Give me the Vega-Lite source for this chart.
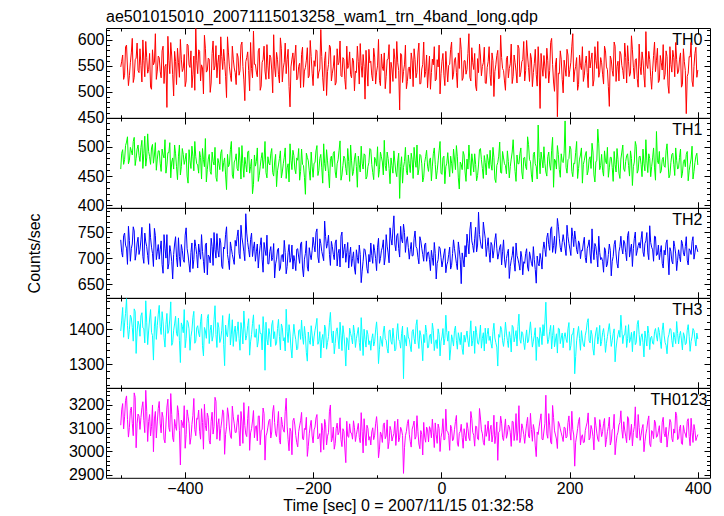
{
"$schema": "https://vega.github.io/schema/vega-lite/v6.json",
"background": "white",
"padding": {"left": 25, "top": 9, "right": 5, "bottom": 2},
"bounds": "flush",
"title": {"text": "ae501015010_20071115013258_wam1_trn_4band_long.qdp", "anchor": "start", "frame": "group", "font": "Liberation Sans", "fontSize": 16, "fontWeight": "normal", "color": "black", "offset": -4},
"config": {
  "view": {"stroke": "black", "strokeWidth": 1},
  "font": "Liberation Sans",
  "concat": {"spacing": 0},
  "axis": {"domain": false, "grid": false, "minExtent": 0, "tickColor": "black", "tickWidth": 1, "labelColor": "black", "labelFont": "Liberation Sans", "labelFontSize": 16, "titleFont": "Liberation Sans", "titleFontSize": 16, "titleFontWeight": "normal", "titleColor": "black", "labelFlush": false, "labelOverlap": false},
  "title": {"font": "Liberation Sans", "fontSize": 16, "fontWeight": "normal", "color": "black"}
},
"datasets": {"lc": [
{"t":-500,"a":548,"b":462,"c":735,"d":1395,"e":3112},
{"t":-497,"a":571,"b":495,"c":702,"d":1462,"e":3205},
{"t":-494,"a":532,"b":478,"c":748,"d":1418,"e":3148},
{"t":-491,"a":590,"b":508,"c":719,"d":1487,"e":3238},
{"t":-488,"a":512,"b":471,"c":761,"d":1372,"e":3061},
{"t":-485,"a":556,"b":499,"c":694,"d":1440,"e":3176},
{"t":-482,"a":603,"b":486,"c":727,"d":1405,"e":3120},
{"t":-479,"a":528,"b":516,"c":752,"d":1458,"e":3251},
{"t":-476,"a":565,"b":480,"c":708,"d":1331,"e":3015},
{"t":-473,"a":541,"b":503,"c":740,"d":1423,"e":3160},
{"t":-470,"a":583,"b":475,"c":716,"d":1380,"e":3094},
{"t":-467,"a":519,"b":511,"c":759,"d":1447,"e":3187},
{"t":-464,"a":560,"b":489,"c":690,"d":1402,"e":3133},
{"t":-461,"a":597,"b":467,"c":731,"d":1481,"e":3262},
{"t":-458,"a":536,"b":522,"c":705,"d":1356,"e":3042},
{"t":-455,"a":574,"b":483,"c":766,"d":1429,"e":3158},
{"t":-452,"a":505,"b":498,"c":721,"d":1391,"e":3107},
{"t":-449,"a":552,"b":472,"c":684,"d":1312,"e":2998},
{"t":-446,"a":612,"b":507,"c":743,"d":1436,"e":3171},
{"t":-443,"a":540,"b":479,"c":712,"d":1410,"e":3126},
{"t":-440,"a":566,"b":493,"c":698,"d":1468,"e":3214},
{"t":-437,"a":527,"b":458,"c":733,"d":1385,"e":3079},
{"t":-434,"a":588,"b":486,"c":671,"d":1421,"e":3145},
{"t":-431,"a":549,"b":512,"c":719,"d":1349,"e":3036},
{"t":-428,"a":470,"b":469,"c":745,"d":1445,"e":3190},
{"t":-425,"a":561,"b":490,"c":689,"d":1397,"e":3102},
{"t":-422,"a":595,"b":447,"c":712,"d":1478,"e":3248},
{"t":-419,"a":533,"b":481,"c":660,"d":1362,"e":3058},
{"t":-416,"a":578,"b":503,"c":727,"d":1415,"e":3137},
{"t":-413,"a":514,"b":466,"c":701,"d":1388,"e":3090},
{"t":-410,"a":556,"b":484,"c":739,"d":1432,"e":3168},
{"t":-407,"a":601,"b":452,"c":684,"d":1305,"e":2941},
{"t":-404,"a":539,"b":497,"c":715,"d":1408,"e":3121},
{"t":-401,"a":572,"b":470,"c":692,"d":1456,"e":3196},
{"t":-398,"a":521,"b":489,"c":758,"d":1374,"e":3072},
{"t":-395,"a":590,"b":438,"c":706,"d":1420,"e":3149},
{"t":-392,"a":547,"b":476,"c":673,"d":1340,"e":3030},
{"t":-389,"a":508,"b":501,"c":729,"d":1397,"e":3115},
{"t":-386,"a":569,"b":459,"c":697,"d":1451,"e":3227},
{"t":-383,"a":622,"b":483,"c":722,"d":1366,"e":3067},
{"t":-380,"a":535,"b":469,"c":681,"d":1410,"e":3138},
{"t":-377,"a":578,"b":492,"c":711,"d":1378,"e":3086},
{"t":-374,"a":552,"b":445,"c":745,"d":1443,"e":3183},
{"t":-371,"a":496,"b":478,"c":694,"d":1324,"e":3009},
{"t":-368,"a":584,"b":514,"c":725,"d":1395,"e":3111},
{"t":-365,"a":541,"b":461,"c":668,"d":1431,"e":3164},
{"t":-362,"a":563,"b":487,"c":703,"d":1359,"e":3047},
{"t":-359,"a":517,"b":453,"c":738,"d":1412,"e":3129},
{"t":-356,"a":598,"b":475,"c":686,"d":1381,"e":3074},
{"t":-353,"a":550,"b":499,"c":716,"d":1467,"e":3232},
{"t":-350,"a":527,"b":441,"c":747,"d":1348,"e":3052},
{"t":-347,"a":571,"b":472,"c":702,"d":1404,"e":3140},
{"t":-344,"a":606,"b":489,"c":729,"d":1372,"e":3098},
{"t":-341,"a":543,"b":458,"c":680,"d":1439,"e":3178},
{"t":-338,"a":559,"b":481,"c":718,"d":1296,"e":2987},
{"t":-335,"a":489,"b":427,"c":760,"d":1386,"e":3105},
{"t":-332,"a":575,"b":466,"c":695,"d":1418,"e":3156},
{"t":-329,"a":532,"b":495,"c":731,"d":1355,"e":3066},
{"t":-326,"a":588,"b":452,"c":707,"d":1427,"e":3194},
{"t":-323,"a":546,"b":474,"c":688,"d":1392,"e":3118},
{"t":-320,"a":514,"b":488,"c":723,"d":1365,"e":3081},
{"t":-317,"a":567,"b":459,"c":754,"d":1421,"e":3157},
{"t":-314,"a":541,"b":476,"c":699,"d":1340,"e":3023},
{"t":-311,"a":596,"b":502,"c":740,"d":1398,"e":3126},
{"t":-308,"a":523,"b":448,"c":712,"d":1452,"e":3209},
{"t":-305,"a":558,"b":470,"c":785,"d":1369,"e":3074},
{"t":-302,"a":577,"b":491,"c":730,"d":1410,"e":3141},
{"t":-299,"a":502,"b":455,"c":702,"d":1326,"e":3004},
{"t":-296,"a":545,"b":479,"c":748,"d":1385,"e":3097},
{"t":-293,"a":617,"b":436,"c":719,"d":1441,"e":3175},
{"t":-290,"a":553,"b":467,"c":694,"d":1377,"e":3106},
{"t":-287,"a":529,"b":498,"c":727,"d":1349,"e":3045},
{"t":-284,"a":584,"b":451,"c":706,"d":1413,"e":3152},
{"t":-281,"a":511,"b":480,"c":739,"d":1388,"e":3088},
{"t":-278,"a":562,"b":463,"c":673,"d":1436,"e":3186},
{"t":-275,"a":540,"b":509,"c":716,"d":1283,"e":2962},
{"t":-272,"a":591,"b":447,"c":744,"d":1371,"e":3079},
{"t":-269,"a":525,"b":472,"c":689,"d":1402,"e":3131},
{"t":-266,"a":566,"b":488,"c":722,"d":1350,"e":3057},
{"t":-263,"a":498,"b":456,"c":701,"d":1425,"e":3169},
{"t":-260,"a":548,"b":474,"c":662,"d":1393,"e":3124},
{"t":-257,"a":576,"b":432,"c":698,"d":1360,"e":3063},
{"t":-254,"a":533,"b":469,"c":719,"d":1428,"e":3171},
{"t":-251,"a":604,"b":493,"c":681,"d":1341,"e":3031},
{"t":-248,"a":519,"b":457,"c":707,"d":1405,"e":3116},
{"t":-245,"a":557,"b":482,"c":734,"d":1376,"e":3082},
{"t":-242,"a":535,"b":446,"c":670,"d":1457,"e":3228},
{"t":-239,"a":582,"b":471,"c":711,"d":1362,"e":3050},
{"t":-236,"a":471,"b":505,"c":692,"d":1389,"e":3099},
{"t":-233,"a":563,"b":461,"c":725,"d":1318,"e":2985},
{"t":-230,"a":541,"b":485,"c":705,"d":1414,"e":3142},
{"t":-227,"a":590,"b":454,"c":676,"d":1370,"e":3068},
{"t":-224,"a":526,"b":477,"c":718,"d":1345,"e":3019},
{"t":-221,"a":555,"b":443,"c":690,"d":1399,"e":3109},
{"t":-218,"a":572,"b":496,"c":731,"d":1426,"e":3167},
{"t":-215,"a":509,"b":468,"c":664,"d":1357,"e":3049},
{"t":-212,"a":547,"b":419,"c":709,"d":1381,"e":3093},
{"t":-209,"a":585,"b":482,"c":683,"d":1309,"e":2978},
{"t":-206,"a":531,"b":459,"c":720,"d":1368,"e":3075},
{"t":-203,"a":568,"b":491,"c":697,"d":1410,"e":3133},
{"t":-200,"a":512,"b":448,"c":740,"d":1352,"e":3036},
{"t":-197,"a":549,"b":473,"c":712,"d":1397,"e":3104},
{"t":-194,"a":579,"b":502,"c":756,"d":1431,"e":3158},
{"t":-191,"a":538,"b":460,"c":691,"d":1366,"e":3061},
{"t":-188,"a":620,"b":487,"c":728,"d":1318,"e":2996},
{"t":-185,"a":527,"b":438,"c":704,"d":1385,"e":3088},
{"t":-182,"a":561,"b":471,"c":771,"d":1412,"e":3137},
{"t":-179,"a":493,"b":495,"c":719,"d":1343,"e":3027},
{"t":-176,"a":553,"b":455,"c":744,"d":1379,"e":3080},
{"t":-173,"a":586,"b":480,"c":686,"d":1448,"e":3199},
{"t":-170,"a":536,"b":466,"c":722,"d":1361,"e":3055},
{"t":-167,"a":570,"b":492,"c":697,"d":1330,"e":3009},
{"t":-164,"a":518,"b":447,"c":735,"d":1394,"e":3097},
{"t":-161,"a":552,"b":478,"c":709,"d":1372,"e":3071},
{"t":-158,"a":598,"b":510,"c":683,"d":1420,"e":3144},
{"t":-155,"a":529,"b":452,"c":750,"d":1339,"e":3020},
{"t":-152,"a":563,"b":484,"c":716,"d":1386,"e":3086},
{"t":-149,"a":505,"b":463,"c":692,"d":1295,"e":2951},
{"t":-146,"a":545,"b":497,"c":730,"d":1367,"e":3064},
{"t":-143,"a":577,"b":441,"c":707,"d":1403,"e":3118},
{"t":-140,"a":527,"b":476,"c":684,"d":1376,"e":3078},
{"t":-137,"a":560,"b":458,"c":712,"d":1412,"e":3131},
{"t":-134,"a":540,"b":489,"c":669,"d":1348,"e":3042},
{"t":-131,"a":588,"b":431,"c":701,"d":1389,"e":3095},
{"t":-128,"a":515,"b":470,"c":725,"d":1362,"e":3060},
{"t":-125,"a":551,"b":501,"c":653,"d":1433,"e":3166},
{"t":-122,"a":572,"b":462,"c":694,"d":1325,"e":2993},
{"t":-119,"a":486,"b":486,"c":716,"d":1371,"e":3074},
{"t":-116,"a":544,"b":449,"c":680,"d":1397,"e":3112},
{"t":-113,"a":582,"b":473,"c":707,"d":1356,"e":3048},
{"t":-110,"a":559,"b":495,"c":729,"d":1340,"e":3027},
{"t":-107,"a":521,"b":456,"c":690,"d":1387,"e":3101},
{"t":-104,"a":567,"b":482,"c":714,"d":1364,"e":3069},
{"t":-101,"a":538,"b":467,"c":676,"d":1421,"e":3149},
{"t":-98,"a":601,"b":448,"c":738,"d":1302,"e":2972},
{"t":-95,"a":512,"b":491,"c":699,"d":1380,"e":3083},
{"t":-92,"a":548,"b":474,"c":721,"d":1351,"e":3038},
{"t":-89,"a":575,"b":511,"c":687,"d":1409,"e":3122},
{"t":-86,"a":530,"b":459,"c":745,"d":1368,"e":3066},
{"t":-83,"a":563,"b":480,"c":710,"d":1332,"e":3011},
{"t":-80,"a":497,"b":437,"c":758,"d":1398,"e":3107},
{"t":-77,"a":544,"b":468,"c":725,"d":1357,"e":3044},
{"t":-74,"a":583,"b":493,"c":781,"d":1374,"e":3076},
{"t":-71,"a":526,"b":457,"c":714,"d":1343,"e":3025},
{"t":-68,"a":556,"b":476,"c":747,"d":1416,"e":3138},
{"t":-65,"a":465,"b":412,"c":702,"d":1365,"e":3058},
{"t":-62,"a":571,"b":483,"c":736,"d":1388,"e":3092},
{"t":-59,"a":539,"b":465,"c":765,"d":1259,"e":2905},
{"t":-56,"a":590,"b":499,"c":711,"d":1369,"e":3067},
{"t":-53,"a":520,"b":452,"c":741,"d":1405,"e":3119},
{"t":-50,"a":548,"b":471,"c":698,"d":1371,"e":3073},
{"t":-47,"a":575,"b":489,"c":730,"d":1336,"e":3018},
{"t":-44,"a":510,"b":446,"c":705,"d":1399,"e":3110},
{"t":-41,"a":562,"b":477,"c":752,"d":1358,"e":3052},
{"t":-38,"a":537,"b":503,"c":718,"d":1427,"e":3153},
{"t":-35,"a":594,"b":462,"c":689,"d":1345,"e":3031},
{"t":-32,"a":516,"b":485,"c":733,"d":1383,"e":3089},
{"t":-29,"a":553,"b":440,"c":707,"d":1310,"e":2984},
{"t":-26,"a":528,"b":473,"c":726,"d":1362,"e":3061},
{"t":-23,"a":571,"b":494,"c":694,"d":1391,"e":3104},
{"t":-20,"a":540,"b":458,"c":712,"d":1348,"e":3040},
{"t":-17,"a":505,"b":481,"c":676,"d":1386,"e":3094},
{"t":-14,"a":563,"b":467,"c":701,"d":1417,"e":3138},
{"t":-11,"a":587,"b":498,"c":730,"d":1339,"e":3016},
{"t":-8,"a":524,"b":445,"c":660,"d":1370,"e":3071},
{"t":-5,"a":548,"b":476,"c":697,"d":1401,"e":3117},
{"t":-2,"a":496,"b":509,"c":719,"d":1324,"e":2999},
{"t":1,"a":559,"b":453,"c":683,"d":1378,"e":3082},
{"t":4,"a":532,"b":484,"c":708,"d":1355,"e":3049},
{"t":7,"a":578,"b":466,"c":672,"d":1440,"e":3181},
{"t":10,"a":519,"b":490,"c":693,"d":1366,"e":3085},
{"t":13,"a":553,"b":449,"c":721,"d":1312,"e":3004},
{"t":16,"a":596,"b":472,"c":686,"d":1384,"e":3098},
{"t":19,"a":534,"b":496,"c":735,"d":1352,"e":3053},
{"t":22,"a":566,"b":461,"c":704,"d":1409,"e":3128},
{"t":25,"a":508,"b":483,"c":678,"d":1343,"e":3035},
{"t":28,"a":545,"b":428,"c":716,"d":1375,"e":3077},
{"t":31,"a":581,"b":470,"c":651,"d":1391,"e":3116},
{"t":34,"a":527,"b":492,"c":698,"d":1328,"e":3013},
{"t":37,"a":560,"b":457,"c":724,"d":1363,"e":3069},
{"t":40,"a":543,"b":479,"c":746,"d":1395,"e":3123},
{"t":43,"a":612,"b":503,"c":708,"d":1350,"e":3057},
{"t":46,"a":521,"b":451,"c":769,"d":1424,"e":3171},
{"t":49,"a":556,"b":474,"c":724,"d":1368,"e":3081},
{"t":52,"a":574,"b":488,"c":737,"d":1331,"e":3022},
{"t":55,"a":502,"b":442,"c":712,"d":1390,"e":3106},
{"t":58,"a":537,"b":469,"c":788,"d":1357,"e":3049},
{"t":61,"a":569,"b":497,"c":731,"d":1412,"e":3143},
{"t":64,"a":549,"b":463,"c":718,"d":1374,"e":3075},
{"t":67,"a":586,"b":485,"c":752,"d":1338,"e":3026},
{"t":70,"a":516,"b":452,"c":703,"d":1359,"e":3064},
{"t":73,"a":558,"b":477,"c":739,"d":1403,"e":3130},
{"t":76,"a":533,"b":494,"c":692,"d":1380,"e":3092},
{"t":79,"a":575,"b":460,"c":725,"d":1346,"e":3040},
{"t":82,"a":491,"b":482,"c":714,"d":1417,"e":3155},
{"t":85,"a":552,"b":439,"c":747,"d":1362,"e":3068},
{"t":88,"a":580,"b":473,"c":698,"d":1295,"e":2961},
{"t":91,"a":528,"b":508,"c":721,"d":1377,"e":3087},
{"t":94,"a":566,"b":455,"c":687,"d":1399,"e":3121},
{"t":97,"a":541,"b":481,"c":735,"d":1351,"e":3046},
{"t":100,"a":503,"b":468,"c":682,"d":1420,"e":3139},
{"t":103,"a":569,"b":493,"c":709,"d":1368,"e":3074},
{"t":106,"a":545,"b":447,"c":661,"d":1393,"e":3106},
{"t":109,"a":592,"b":479,"c":696,"d":1335,"e":3021},
{"t":112,"a":530,"b":512,"c":722,"d":1406,"e":3127},
{"t":115,"a":556,"b":458,"c":675,"d":1379,"e":3083},
{"t":118,"a":517,"b":486,"c":705,"d":1352,"e":3047},
{"t":121,"a":584,"b":471,"c":689,"d":1443,"e":3196},
{"t":124,"a":538,"b":498,"c":713,"d":1360,"e":3060},
{"t":127,"a":562,"b":445,"c":668,"d":1387,"e":3099},
{"t":130,"a":521,"b":482,"c":690,"d":1342,"e":3034},
{"t":133,"a":599,"b":461,"c":718,"d":1398,"e":3118},
{"t":136,"a":547,"b":504,"c":675,"d":1366,"e":3065},
{"t":139,"a":574,"b":475,"c":702,"d":1421,"e":3163},
{"t":142,"a":510,"b":440,"c":684,"d":1349,"e":3043},
{"t":145,"a":555,"b":491,"c":697,"d":1382,"e":3091},
{"t":148,"a":533,"b":466,"c":652,"d":1311,"e":2977},
{"t":151,"a":587,"b":537,"c":690,"d":1372,"e":3072},
{"t":154,"a":468,"b":454,"c":709,"d":1405,"e":3134},
{"t":157,"a":548,"b":478,"c":679,"d":1356,"e":3052},
{"t":160,"a":570,"b":500,"c":731,"d":1381,"e":3087},
{"t":163,"a":526,"b":457,"c":703,"d":1477,"e":3241},
{"t":166,"a":560,"b":483,"c":748,"d":1359,"e":3056},
{"t":169,"a":541,"b":469,"c":715,"d":1394,"e":3109},
{"t":172,"a":603,"b":494,"c":760,"d":1344,"e":3031},
{"t":175,"a":519,"b":431,"c":724,"d":1411,"e":3145},
{"t":178,"a":552,"b":476,"c":709,"d":1369,"e":3070},
{"t":181,"a":452,"b":502,"c":776,"d":1332,"e":3012},
{"t":184,"a":535,"b":461,"c":738,"d":1401,"e":3117},
{"t":187,"a":563,"b":488,"c":712,"d":1375,"e":3079},
{"t":190,"a":498,"b":473,"c":745,"d":1347,"e":3042},
{"t":193,"a":546,"b":544,"c":719,"d":1390,"e":3101},
{"t":196,"a":582,"b":455,"c":763,"d":1362,"e":3063},
{"t":199,"a":529,"b":480,"c":728,"d":1419,"e":3152},
{"t":202,"a":557,"b":496,"c":705,"d":1353,"e":3048},
{"t":205,"a":612,"b":449,"c":741,"d":1386,"e":3093},
{"t":208,"a":540,"b":471,"c":752,"d":1273,"e":2936},
{"t":211,"a":566,"b":509,"c":716,"d":1367,"e":3066},
{"t":214,"a":514,"b":463,"c":733,"d":1408,"e":3129},
{"t":217,"a":551,"b":486,"c":699,"d":1340,"e":3027},
{"t":220,"a":587,"b":438,"c":714,"d":1372,"e":3071},
{"t":223,"a":532,"b":477,"c":740,"d":1350,"e":3039},
{"t":226,"a":569,"b":492,"c":691,"d":1396,"e":3108},
{"t":229,"a":508,"b":459,"c":725,"d":1430,"e":3165},
{"t":232,"a":546,"b":483,"c":708,"d":1361,"e":3058},
{"t":235,"a":575,"b":506,"c":756,"d":1384,"e":3094},
{"t":238,"a":523,"b":452,"c":697,"d":1326,"e":3006},
{"t":241,"a":560,"b":474,"c":722,"d":1392,"e":3112},
{"t":244,"a":597,"b":530,"c":683,"d":1358,"e":3051},
{"t":247,"a":538,"b":461,"c":711,"d":1411,"e":3136},
{"t":250,"a":556,"b":487,"c":701,"d":1365,"e":3063},
{"t":253,"a":515,"b":450,"c":673,"d":1402,"e":3120},
{"t":256,"a":579,"b":476,"c":715,"d":1334,"e":3019},
{"t":259,"a":543,"b":499,"c":689,"d":1379,"e":3084},
{"t":262,"a":472,"b":464,"c":727,"d":1416,"e":3147},
{"t":265,"a":562,"b":482,"c":666,"d":1351,"e":3044},
{"t":268,"a":530,"b":441,"c":703,"d":1388,"e":3097},
{"t":271,"a":588,"b":470,"c":734,"d":1307,"e":2985},
{"t":274,"a":549,"b":497,"c":690,"d":1369,"e":3068},
{"t":277,"a":521,"b":455,"c":712,"d":1397,"e":3113},
{"t":280,"a":573,"b":479,"c":742,"d":1440,"e":3174},
{"t":283,"a":541,"b":503,"c":708,"d":1359,"e":3056},
{"t":286,"a":594,"b":458,"c":729,"d":1384,"e":3091},
{"t":289,"a":517,"b":485,"c":695,"d":1348,"e":3037},
{"t":292,"a":558,"b":468,"c":751,"d":1413,"e":3139},
{"t":295,"a":536,"b":493,"c":716,"d":1371,"e":3074},
{"t":298,"a":581,"b":434,"c":684,"d":1336,"e":3023},
{"t":301,"a":525,"b":474,"c":738,"d":1395,"e":3106},
{"t":304,"a":564,"b":501,"c":705,"d":1362,"e":3061},
{"t":307,"a":509,"b":460,"c":724,"d":1425,"e":3158},
{"t":310,"a":549,"b":484,"c":719,"d":1353,"e":3047},
{"t":313,"a":577,"b":449,"c":751,"d":1387,"e":3098},
{"t":316,"a":531,"b":471,"c":703,"d":1321,"e":2998},
{"t":319,"a":616,"b":512,"c":733,"d":1374,"e":3075},
{"t":322,"a":545,"b":456,"c":710,"d":1409,"e":3131},
{"t":325,"a":562,"b":480,"c":762,"d":1342,"e":3032},
{"t":328,"a":505,"b":466,"c":721,"d":1380,"e":3089},
{"t":331,"a":570,"b":498,"c":694,"d":1357,"e":3054},
{"t":334,"a":539,"b":443,"c":741,"d":1402,"e":3121},
{"t":337,"a":584,"b":476,"c":707,"d":1366,"e":3066},
{"t":340,"a":522,"b":492,"c":697,"d":1391,"e":3110},
{"t":343,"a":556,"b":459,"c":724,"d":1345,"e":3036},
{"t":346,"a":591,"b":482,"c":681,"d":1418,"e":3146},
{"t":349,"a":534,"b":465,"c":706,"d":1362,"e":3062},
{"t":352,"a":568,"b":505,"c":735,"d":1330,"e":3018},
{"t":355,"a":497,"b":447,"c":668,"d":1385,"e":3092},
{"t":358,"a":553,"b":473,"c":713,"d":1400,"e":3125},
{"t":361,"a":580,"b":489,"c":689,"d":1349,"e":3041},
{"t":364,"a":529,"b":451,"c":722,"d":1376,"e":3078},
{"t":367,"a":562,"b":477,"c":676,"d":1422,"e":3153},
{"t":370,"a":540,"b":464,"c":716,"d":1358,"e":3055},
{"t":373,"a":575,"b":496,"c":693,"d":1394,"e":3113},
{"t":376,"a":514,"b":455,"c":728,"d":1341,"e":3029},
{"t":379,"a":558,"b":478,"c":704,"d":1381,"e":3086},
{"t":382,"a":458,"b":487,"c":741,"d":1360,"e":3059},
{"t":385,"a":536,"b":442,"c":687,"d":1413,"e":3140},
{"t":388,"a":567,"b":470,"c":715,"d":1337,"e":3024},
{"t":391,"a":521,"b":501,"c":732,"d":1378,"e":3081},
{"t":394,"a":549,"b":458,"c":698,"d":1396,"e":3115},
{"t":397,"a":586,"b":484,"c":725,"d":1352,"e":3046},
{"t":400,"a":542,"b":469,"c":712,"d":1372,"e":3072},
{"t":-498.5,"a":559,"b":489,"c":711,"d":1426,"e":3178},
{"t":-495.5,"a":524,"b":470,"c":743,"d":1377,"e":3096},
{"t":-492.5,"a":587,"b":502,"c":725,"d":1445,"e":3219},
{"t":-489.5,"a":546,"b":517,"c":688,"d":1410,"e":3137},
{"t":-486.5,"a":531,"b":477,"c":734,"d":1399,"e":3103},
{"t":-483.5,"a":575,"b":493,"c":718,"d":1433,"e":3190},
{"t":-480.5,"a":518,"b":509,"c":760,"d":1366,"e":3067},
{"t":-477.5,"a":562,"b":468,"c":696,"d":1451,"e":3232},
{"t":-474.5,"a":594,"b":496,"c":729,"d":1392,"e":3118},
{"t":-471.5,"a":537,"b":485,"c":707,"d":1412,"e":3151},
{"t":-468.5,"a":551,"b":499,"c":735,"d":1438,"e":3145},
{"t":-465.5,"a":600,"b":463,"c":703,"d":1404,"e":3213},
{"t":-462.5,"a":529,"b":518,"c":748,"d":1361,"e":3080},
{"t":-459.5,"a":566,"b":481,"c":722,"d":1420,"e":3172},
{"t":-456.5,"a":543,"b":492,"c":688,"d":1395,"e":3128},
{"t":-453.5,"a":509,"b":470,"c":739,"d":1456,"e":3066},
{"t":-450.5,"a":581,"b":504,"c":709,"d":1382,"e":3199},
{"t":-447.5,"a":557,"b":486,"c":757,"d":1409,"e":3139},
{"t":-444.5,"a":524,"b":460,"c":697,"d":1371,"e":3057},
{"t":-441.5,"a":569,"b":493,"c":726,"d":1443,"e":3184},
{"t":-438.5,"a":540,"b":472,"c":716,"d":1407,"e":3121},
{"t":-435.5,"a":579,"b":496,"c":688,"d":1450,"e":3168},
{"t":-432.5,"a":516,"b":481,"c":745,"d":1376,"e":3052},
{"t":-429.5,"a":553,"b":455,"c":700,"d":1414,"e":3117},
{"t":-426.5,"a":607,"b":490,"c":679,"d":1388,"e":3224},
{"t":-423.5,"a":535,"b":507,"c":724,"d":1429,"e":3085},
{"t":-420.5,"a":569,"b":474,"c":694,"d":1354,"e":3157},
{"t":-417.5,"a":492,"b":462,"c":707,"d":1397,"e":3041},
{"t":-414.5,"a":558,"b":488,"c":741,"d":1437,"e":3106},
{"t":-411.5,"a":584,"b":444,"c":683,"d":1380,"e":3196},
{"t":-408.5,"a":528,"b":503,"c":703,"d":1368,"e":3089},
{"t":-405.5,"a":563,"b":466,"c":726,"d":1418,"e":3134},
{"t":-402.5,"a":545,"b":487,"c":697,"d":1390,"e":3101},
{"t":-399.5,"a":510,"b":478,"c":744,"d":1347,"e":3013},
{"t":-396.5,"a":592,"b":450,"c":718,"d":1425,"e":3178},
{"t":-393.5,"a":552,"b":495,"c":689,"d":1401,"e":3120},
{"t":-390.5,"a":579,"b":463,"c":711,"d":1379,"e":3059},
{"t":-387.5,"a":534,"b":484,"c":680,"d":1433,"e":3153},
{"t":-384.5,"a":503,"b":509,"c":735,"d":1360,"e":3093},
{"t":-381.5,"a":560,"b":471,"c":707,"d":1404,"e":3142},
{"t":-378.5,"a":581,"b":455,"c":727,"d":1389,"e":3177},
{"t":-375.5,"a":521,"b":482,"c":698,"d":1421,"e":3052},
{"t":-372.5,"a":546,"b":497,"c":713,"d":1353,"e":3124},
{"t":-369.5,"a":609,"b":466,"c":672,"d":1405,"e":3202},
{"t":-366.5,"a":538,"b":440,"c":729,"d":1374,"e":3088},
{"t":-363.5,"a":565,"b":479,"c":706,"d":1442,"e":3146},
{"t":-360.5,"a":499,"b":458,"c":691,"d":1397,"e":3031},
{"t":-357.5,"a":574,"b":491,"c":722,"d":1366,"e":3168},
{"t":-354.5,"a":542,"b":469,"c":749,"d":1427,"e":3107},
{"t":-351.5,"a":589,"b":448,"c":700,"d":1385,"e":3215},
{"t":-348.5,"a":556,"b":480,"c":715,"d":1419,"e":3115},
{"t":-345.5,"a":515,"b":461,"c":738,"d":1362,"e":3046},
{"t":-342.5,"a":568,"b":495,"c":684,"d":1397,"e":3130},
{"t":-339.5,"a":582,"b":473,"c":721,"d":1357,"e":3166},
{"t":-336.5,"a":530,"b":452,"c":745,"d":1412,"e":3073},
{"t":-333.5,"a":606,"b":487,"c":707,"d":1378,"e":3187},
{"t":-330.5,"a":548,"b":470,"c":678,"d":1444,"e":3100},
{"t":-327.5,"a":520,"b":509,"c":719,"d":1386,"e":3055},
{"t":-324.5,"a":563,"b":446,"c":698,"d":1351,"e":3148},
{"t":-321.5,"a":537,"b":478,"c":734,"d":1409,"e":3081},
{"t":-318.5,"a":574,"b":463,"c":741,"d":1393,"e":3125},
{"t":-315.5,"a":532,"b":499,"c":709,"d":1374,"e":3089},
{"t":-312.5,"a":590,"b":445,"c":763,"d":1419,"e":3171},
{"t":-309.5,"a":549,"b":471,"c":727,"d":1358,"e":3034},
{"t":-306.5,"a":483,"b":482,"c":695,"d":1403,"e":3111},
{"t":-303.5,"a":566,"b":457,"c":748,"d":1382,"e":3063},
{"t":-300.5,"a":541,"b":493,"c":716,"d":1430,"e":3193},
{"t":-297.5,"a":595,"b":466,"c":736,"d":1364,"e":3079},
{"t":-294.5,"a":527,"b":420,"c":703,"d":1416,"e":3130},
{"t":-291.5,"a":553,"b":486,"c":731,"d":1378,"e":3058},
{"t":-288.5,"a":538,"b":475,"c":712,"d":1401,"e":3110},
{"t":-285.5,"a":579,"b":441,"c":681,"d":1366,"e":3151},
{"t":-282.5,"a":503,"b":467,"c":724,"d":1388,"e":3028},
{"t":-279.5,"a":557,"b":490,"c":698,"d":1341,"e":3095},
{"t":-276.5,"a":588,"b":478,"c":730,"d":1397,"e":3162},
{"t":-273.5,"a":524,"b":456,"c":705,"d":1420,"e":3066},
{"t":-270.5,"a":550,"b":483,"c":689,"d":1355,"e":3104},
{"t":-267.5,"a":571,"b":469,"c":713,"d":1384,"e":3138},
{"t":-264.5,"a":542,"b":497,"c":695,"d":1412,"e":3083},
{"t":-261.5,"a":610,"b":450,"c":728,"d":1373,"e":3197},
{"t":-258.5,"a":529,"b":487,"c":689,"d":1354,"e":3075},
{"t":-255.5,"a":562,"b":459,"c":716,"d":1402,"e":3118},
{"t":-252.5,"a":517,"b":480,"c":676,"d":1379,"e":3046},
{"t":-249.5,"a":583,"b":447,"c":705,"d":1415,"e":3147},
{"t":-246.5,"a":546,"b":471,"c":693,"d":1367,"e":3092},
{"t":-243.5,"a":594,"b":498,"c":711,"d":1338,"e":3170},
{"t":-240.5,"a":562,"b":464,"c":684,"d":1394,"e":3108},
{"t":-237.5,"a":510,"b":440,"c":726,"d":1413,"e":3002},
{"t":-234.5,"a":548,"b":477,"c":701,"d":1346,"e":3085},
{"t":-231.5,"a":575,"b":494,"c":679,"d":1380,"e":3131},
{"t":-228.5,"a":567,"b":462,"c":694,"d":1386,"e":3113},
{"t":-225.5,"a":523,"b":481,"c":717,"d":1341,"e":3037},
{"t":-222.5,"a":549,"b":497,"c":702,"d":1396,"e":3084},
{"t":-219.5,"a":508,"b":458,"c":727,"d":1371,"e":3131},
{"t":-216.5,"a":586,"b":470,"c":681,"d":1380,"e":3054},
{"t":-213.5,"a":540,"b":448,"c":698,"d":1408,"e":3098},
{"t":-210.5,"a":561,"b":489,"c":733,"d":1333,"e":3146},
{"t":-207.5,"a":527,"b":476,"c":675,"d":1392,"e":3021},
{"t":-204.5,"a":599,"b":443,"c":706,"d":1357,"e":3109},
{"t":-201.5,"a":536,"b":467,"c":715,"d":1383,"e":3066},
{"t":-198.5,"a":560,"b":472,"c":724,"d":1378,"e":3092},
{"t":-195.5,"a":581,"b":493,"c":749,"d":1412,"e":3143},
{"t":-192.5,"a":526,"b":451,"c":702,"d":1357,"e":3053},
{"t":-189.5,"a":544,"b":480,"c":737,"d":1393,"e":3076},
{"t":-186.5,"a":568,"b":464,"c":713,"d":1370,"e":3120},
{"t":-183.5,"a":502,"b":505,"c":695,"d":1347,"e":3007},
{"t":-180.5,"a":577,"b":459,"c":741,"d":1401,"e":3114},
{"t":-177.5,"a":539,"b":476,"c":728,"d":1362,"e":3065},
{"t":-174.5,"a":590,"b":430,"c":707,"d":1420,"e":3172},
{"t":-171.5,"a":521,"b":484,"c":732,"d":1389,"e":3040},
{"t":-168.5,"a":548,"b":489,"c":707,"d":1395,"e":3104},
{"t":-165.5,"a":513,"b":457,"c":729,"d":1359,"e":3033},
{"t":-162.5,"a":583,"b":471,"c":685,"d":1404,"e":3121},
{"t":-159.5,"a":557,"b":494,"c":717,"d":1344,"e":3082},
{"t":-156.5,"a":531,"b":443,"c":742,"d":1383,"e":3050},
{"t":-153.5,"a":566,"b":468,"c":700,"d":1410,"e":3097},
{"t":-150.5,"a":524,"b":480,"c":727,"d":1352,"e":3014},
{"t":-147.5,"a":588,"b":452,"c":711,"d":1376,"e":3129},
{"t":-144.5,"a":551,"b":475,"c":681,"d":1341,"e":3060},
{"t":-141.5,"a":533,"b":503,"c":721,"d":1388,"e":3079},
{"t":-138.5,"a":565,"b":451,"c":699,"d":1358,"e":3052},
{"t":-135.5,"a":502,"b":479,"c":681,"d":1390,"e":3101},
{"t":-132.5,"a":537,"b":466,"c":716,"d":1373,"e":3071},
{"t":-129.5,"a":558,"b":484,"c":690,"d":1405,"e":3120},
{"t":-126.5,"a":593,"b":457,"c":707,"d":1339,"e":3037},
{"t":-123.5,"a":528,"b":472,"c":675,"d":1381,"e":3086},
{"t":-120.5,"a":549,"b":488,"c":718,"d":1400,"e":3140},
{"t":-117.5,"a":580,"b":445,"c":702,"d":1349,"e":3024},
{"t":-114.5,"a":511,"b":466,"c":671,"d":1385,"e":3098},
{"t":-111.5,"a":556,"b":497,"c":693,"d":1367,"e":3063},
{"t":-108.5,"a":532,"b":470,"c":705,"d":1373,"e":3083},
{"t":-105.5,"a":584,"b":444,"c":726,"d":1352,"e":3050},
{"t":-102.5,"a":515,"b":477,"c":699,"d":1398,"e":3118},
{"t":-99.5,"a":550,"b":500,"c":721,"d":1381,"e":3096},
{"t":-96.5,"a":522,"b":461,"c":690,"d":1343,"e":3009},
{"t":-93.5,"a":573,"b":483,"c":714,"d":1366,"e":3072},
{"t":-90.5,"a":541,"b":452,"c":735,"d":1392,"e":3114},
{"t":-87.5,"a":506,"b":468,"c":702,"d":1373,"e":3054},
{"t":-84.5,"a":562,"b":491,"c":723,"d":1345,"e":3135},
{"t":-81.5,"a":591,"b":463,"c":691,"d":1396,"e":3041},
{"t":-78.5,"a":557,"b":481,"c":737,"d":1365,"e":3090},
{"t":-75.5,"a":520,"b":455,"c":756,"d":1403,"e":3062},
{"t":-72.5,"a":562,"b":474,"c":727,"d":1338,"e":3129},
{"t":-69.5,"a":597,"b":449,"c":743,"d":1389,"e":3079},
{"t":-66.5,"a":541,"b":489,"c":718,"d":1371,"e":3041},
{"t":-63.5,"a":574,"b":466,"c":761,"d":1346,"e":3103},
{"t":-60.5,"a":518,"b":438,"c":729,"d":1409,"e":3068},
{"t":-57.5,"a":552,"b":475,"c":749,"d":1383,"e":3015},
{"t":-54.5,"a":506,"b":459,"c":733,"d":1352,"e":3085},
{"t":-51.5,"a":545,"b":486,"c":720,"d":1378,"e":3136},
{"t":-48.5,"a":525,"b":456,"c":716,"d":1352,"e":3042},
{"t":-45.5,"a":561,"b":478,"c":704,"d":1393,"e":3095},
{"t":-42.5,"a":583,"b":499,"c":738,"d":1374,"e":3130},
{"t":-39.5,"a":527,"b":465,"c":722,"d":1411,"e":3063},
{"t":-36.5,"a":575,"b":452,"c":701,"d":1369,"e":3084},
{"t":-33.5,"a":515,"b":487,"c":741,"d":1396,"e":3011},
{"t":-30.5,"a":544,"b":471,"c":719,"d":1355,"e":3072},
{"t":-27.5,"a":596,"b":448,"c":694,"d":1385,"e":3124},
{"t":-24.5,"a":539,"b":483,"c":729,"d":1412,"e":3039},
{"t":-21.5,"a":508,"b":467,"c":710,"d":1347,"e":3093},
{"t":-18.5,"a":569,"b":477,"c":697,"d":1381,"e":3106},
{"t":-15.5,"a":537,"b":442,"c":715,"d":1359,"e":3058},
{"t":-12.5,"a":552,"b":488,"c":686,"d":1397,"e":3079},
{"t":-9.5,"a":521,"b":470,"c":709,"d":1364,"e":3122},
{"t":-6.5,"a":562,"b":459,"c":690,"d":1345,"e":3034},
{"t":-3.5,"a":590,"b":493,"c":722,"d":1385,"e":3098},
{"t":-0.5,"a":535,"b":455,"c":701,"d":1366,"e":3060},
{"t":2.5,"a":574,"b":481,"c":695,"d":1402,"e":3140},
{"t":5.5,"a":512,"b":437,"c":718,"d":1373,"e":3051},
{"t":8.5,"a":546,"b":472,"c":687,"d":1391,"e":3087},
{"t":11.5,"a":551,"b":469,"c":707,"d":1394,"e":3068},
{"t":14.5,"a":582,"b":484,"c":679,"d":1341,"e":3112},
{"t":17.5,"a":524,"b":455,"c":709,"d":1370,"e":3045},
{"t":20.5,"a":561,"b":479,"c":718,"d":1397,"e":3093},
{"t":23.5,"a":537,"b":502,"c":690,"d":1368,"e":3154},
{"t":26.5,"a":575,"b":447,"c":731,"d":1390,"e":3021},
{"t":29.5,"a":604,"b":474,"c":697,"d":1356,"e":3085},
{"t":32.5,"a":522,"b":461,"c":710,"d":1344,"e":3060},
{"t":35.5,"a":560,"b":486,"c":683,"d":1383,"e":3097},
{"t":38.5,"a":534,"b":441,"c":702,"d":1378,"e":3044},
{"t":41.5,"a":574,"b":462,"c":728,"d":1367,"e":3097},
{"t":44.5,"a":528,"b":476,"c":754,"d":1385,"e":3046},
{"t":47.5,"a":585,"b":488,"c":733,"d":1352,"e":3140},
{"t":50.5,"a":543,"b":457,"c":711,"d":1395,"e":3069},
{"t":53.5,"a":511,"b":470,"c":759,"d":1408,"e":3108},
{"t":56.5,"a":564,"b":451,"c":725,"d":1361,"e":3053},
{"t":59.5,"a":592,"b":495,"c":745,"d":1378,"e":3184},
{"t":62.5,"a":531,"b":478,"c":720,"d":1346,"e":3092},
{"t":65.5,"a":556,"b":446,"c":769,"d":1390,"e":3038},
{"t":68.5,"a":517,"b":473,"c":738,"d":1403,"e":3114},
{"t":71.5,"a":547,"b":487,"c":722,"d":1385,"e":3087},
{"t":74.5,"a":587,"b":463,"c":711,"d":1368,"e":3045},
{"t":77.5,"a":512,"b":470,"c":730,"d":1359,"e":3112},
{"t":80.5,"a":560,"b":499,"c":700,"d":1393,"e":3071},
{"t":83.5,"a":539,"b":445,"c":735,"d":1375,"e":3033},
{"t":86.5,"a":570,"b":468,"c":719,"d":1349,"e":3126},
{"t":89.5,"a":525,"b":484,"c":708,"d":1385,"e":3082},
{"t":92.5,"a":609,"b":456,"c":726,"d":1408,"e":3151},
{"t":95.5,"a":545,"b":492,"c":712,"d":1367,"e":3059},
{"t":98.5,"a":521,"b":471,"c":698,"d":1376,"e":3096},
{"t":101.5,"a":563,"b":454,"c":699,"d":1389,"e":3056},
{"t":104.5,"a":527,"b":475,"c":717,"d":1348,"e":3113},
{"t":107.5,"a":554,"b":466,"c":684,"d":1376,"e":3080},
{"t":110.5,"a":516,"b":491,"c":705,"d":1411,"e":3129},
{"t":113.5,"a":571,"b":479,"c":691,"d":1364,"e":3046},
{"t":116.5,"a":540,"b":441,"c":729,"d":1396,"e":3162},
{"t":119.5,"a":590,"b":471,"c":698,"d":1408,"e":3091},
{"t":122.5,"a":529,"b":488,"c":677,"d":1371,"e":3037},
{"t":125.5,"a":558,"b":457,"c":702,"d":1393,"e":3118},
{"t":128.5,"a":597,"b":481,"c":693,"d":1362,"e":3073},
{"t":131.5,"a":541,"b":466,"c":709,"d":1375,"e":3078},
{"t":134.5,"a":569,"b":517,"c":683,"d":1361,"e":3146},
{"t":137.5,"a":520,"b":478,"c":712,"d":1395,"e":3057},
{"t":140.5,"a":563,"b":452,"c":690,"d":1383,"e":3094},
{"t":143.5,"a":537,"b":487,"c":722,"d":1366,"e":3115},
{"t":146.5,"a":582,"b":471,"c":678,"d":1404,"e":3023},
{"t":149.5,"a":511,"b":445,"c":704,"d":1378,"e":3083},
{"t":152.5,"a":546,"b":482,"c":685,"d":1350,"e":3105},
{"t":155.5,"a":574,"b":491,"c":697,"d":1387,"e":3161},
{"t":158.5,"a":530,"b":464,"c":716,"d":1413,"e":3049},
{"t":161.5,"a":548,"b":472,"c":717,"d":1420,"e":3119},
{"t":164.5,"a":584,"b":450,"c":739,"d":1392,"e":3075},
{"t":167.5,"a":517,"b":491,"c":726,"d":1371,"e":3162},
{"t":170.5,"a":595,"b":460,"c":756,"d":1411,"e":3040},
{"t":173.5,"a":553,"b":516,"c":711,"d":1382,"e":3197},
{"t":176.5,"a":501,"b":479,"c":742,"d":1350,"e":3088},
{"t":179.5,"a":565,"b":462,"c":727,"d":1387,"e":3053},
{"t":182.5,"a":536,"b":487,"c":761,"d":1403,"e":3128},
{"t":185.5,"a":579,"b":448,"c":720,"d":1359,"e":3096},
{"t":188.5,"a":524,"b":475,"c":730,"d":1389,"e":3062},
{"t":191.5,"a":561,"b":489,"c":732,"d":1378,"e":3104},
{"t":194.5,"a":530,"b":465,"c":705,"d":1372,"e":3057},
{"t":197.5,"a":571,"b":478,"c":741,"d":1401,"e":3123},
{"t":200.5,"a":543,"b":501,"c":717,"d":1340,"e":3085},
{"t":203.5,"a":588,"b":458,"c":758,"d":1385,"e":3172},
{"t":206.5,"a":519,"b":472,"c":722,"d":1403,"e":3070},
{"t":209.5,"a":549,"b":490,"c":736,"d":1322,"e":3039},
{"t":212.5,"a":503,"b":446,"c":708,"d":1389,"e":3097},
{"t":215.5,"a":571,"b":479,"c":727,"d":1373,"e":3145},
{"t":218.5,"a":543,"b":498,"c":715,"d":1396,"e":3061},
{"t":221.5,"a":520,"b":470,"c":729,"d":1355,"e":3037},
{"t":224.5,"a":555,"b":486,"c":701,"d":1383,"e":3089},
{"t":227.5,"a":537,"b":452,"c":718,"d":1419,"e":3125},
{"t":230.5,"a":579,"b":479,"c":735,"d":1367,"e":3049},
{"t":233.5,"a":562,"b":463,"c":690,"d":1397,"e":3111},
{"t":236.5,"a":511,"b":491,"c":717,"d":1344,"e":3064},
{"t":239.5,"a":587,"b":440,"c":728,"d":1372,"e":3146},
{"t":242.5,"a":545,"b":477,"c":705,"d":1405,"e":3078},
{"t":245.5,"a":528,"b":505,"c":742,"d":1380,"e":3042},
{"t":248.5,"a":566,"b":468,"c":697,"d":1352,"e":3103},
{"t":251.5,"a":534,"b":460,"c":694,"d":1390,"e":3084},
{"t":254.5,"a":588,"b":493,"c":720,"d":1376,"e":3141},
{"t":257.5,"a":548,"b":471,"c":683,"d":1360,"e":3050},
{"t":260.5,"a":510,"b":448,"c":707,"d":1398,"e":3106},
{"t":263.5,"a":569,"b":482,"c":715,"d":1385,"e":3027},
{"t":266.5,"a":541,"b":465,"c":694,"d":1368,"e":3093},
{"t":269.5,"a":596,"b":492,"c":726,"d":1401,"e":3159},
{"t":272.5,"a":520,"b":457,"c":708,"d":1346,"e":3035},
{"t":275.5,"a":559,"b":478,"c":681,"d":1384,"e":3082},
{"t":278.5,"a":578,"b":446,"c":722,"d":1377,"e":3124},
{"t":281.5,"a":551,"b":491,"c":719,"d":1397,"e":3093},
{"t":284.5,"a":525,"b":462,"c":734,"d":1383,"e":3127},
{"t":287.5,"a":566,"b":475,"c":711,"d":1410,"e":3065},
{"t":290.5,"a":589,"b":488,"c":743,"d":1373,"e":3149},
{"t":293.5,"a":530,"b":450,"c":702,"d":1362,"e":3048},
{"t":296.5,"a":608,"b":480,"c":727,"d":1391,"e":3116},
{"t":299.5,"a":547,"b":466,"c":718,"d":1387,"e":3081},
{"t":302.5,"a":561,"b":509,"c":750,"d":1356,"e":3191},
{"t":305.5,"a":526,"b":455,"c":714,"d":1414,"e":3057},
{"t":308.5,"a":592,"b":483,"c":730,"d":1385,"e":3102},
{"t":311.5,"a":533,"b":470,"c":736,"d":1377,"e":3069},
{"t":314.5,"a":561,"b":496,"c":712,"d":1362,"e":3115},
{"t":317.5,"a":509,"b":459,"c":728,"d":1395,"e":3041},
{"t":320.5,"a":552,"b":476,"c":749,"d":1352,"e":3097},
{"t":323.5,"a":578,"b":488,"c":697,"d":1388,"e":3152},
{"t":326.5,"a":529,"b":449,"c":730,"d":1376,"e":3020},
{"t":329.5,"a":541,"b":481,"c":716,"d":1360,"e":3083},
{"t":332.5,"a":596,"b":464,"c":742,"d":1393,"e":3134},
{"t":335.5,"a":561,"b":526,"c":705,"d":1381,"e":3060},
{"t":338.5,"a":518,"b":471,"c":725,"d":1405,"e":3088},
{"t":341.5,"a":570,"b":455,"c":711,"d":1366,"e":3041},
{"t":344.5,"a":542,"b":478,"c":690,"d":1397,"e":3125},
{"t":347.5,"a":524,"b":467,"c":715,"d":1383,"e":3076},
{"t":350.5,"a":579,"b":493,"c":729,"d":1354,"e":3103},
{"t":353.5,"a":513,"b":474,"c":702,"d":1375,"e":3062},
{"t":356.5,"a":587,"b":452,"c":720,"d":1402,"e":3137},
{"t":359.5,"a":538,"b":487,"c":694,"d":1368,"e":3055},
{"t":362.5,"a":566,"b":470,"c":733,"d":1391,"e":3096},
{"t":365.5,"a":595,"b":498,"c":708,"d":1359,"e":3169},
{"t":368.5,"a":535,"b":462,"c":696,"d":1388,"e":3050},
{"t":371.5,"a":563,"b":482,"c":703,"d":1382,"e":3098},
{"t":374.5,"a":509,"b":447,"c":734,"d":1369,"e":3033},
{"t":377.5,"a":583,"b":475,"c":710,"d":1390,"e":3111},
{"t":380.5,"a":541,"b":466,"c":722,"d":1356,"e":3074},
{"t":383.5,"a":530,"b":492,"c":696,"d":1397,"e":3129},
{"t":386.5,"a":568,"b":459,"c":718,"d":1380,"e":3064},
{"t":389.5,"a":595,"b":479,"c":707,"d":1365,"e":3142},
{"t":392.5,"a":510,"b":445,"c":741,"d":1402,"e":3038},
{"t":395.5,"a":574,"b":473,"c":710,"d":1371,"e":3090},
{"t":398.5,"a":528,"b":489,"c":719,"d":1389,"e":3060}
]},
"spacing": 0,
"vconcat": [
{
 "width": 604, "height": 89.8,
 "data": {"name": "lc"},
 "layer": [
  {"mark": {"type": "line", "color": "#ff0000", "strokeWidth": 1, "clip": true},
   "encoding": {
    "x": {"field": "t", "type": "quantitative", "scale": {"domain": [-523, 419], "nice": false, "zero": false},
          "axis": {"orient": "bottom", "title": null, "labels": false, "minExtent": 0, "maxExtent": 0, "values": [-500,-400,-300,-200,-100,0,100,200,300,400], "tickSize": {"condition": {"test": "datum.value % 200 === 0", "value": -6}, "value": -3}}},
    "y": {"field": "a", "type": "quantitative", "scale": {"domain": [450, 623], "nice": false, "zero": false},
          "axis": {"orient": "left", "title": null, "format": "d", "values": [450,460,470,480,490,500,510,520,530,540,550,560,570,580,590,600,610,620], "labelExpr": "datum.value % 50 === 0 ? datum.label : ''", "tickSize": {"condition": {"test": "datum.value % 50 === 0", "value": -6}, "value": -3.5}, "labelPadding": 8}}
   }},
  {"mark": {"type": "line", "strokeOpacity": 0},
   "encoding": {
    "x": {"field": "t", "type": "quantitative", "scale": {"domain": [-523, 419], "nice": false, "zero": false},
          "axis": {"orient": "top", "title": null, "labels": false, "minExtent": 0, "maxExtent": 0, "values": [-500,-400,-300,-200,-100,0,100,200,300,400], "tickSize": {"condition": {"test": "datum.value % 200 === 0", "value": -6}, "value": -3}}},
    "y": {"field": "a", "type": "quantitative", "scale": {"domain": [450, 623], "nice": false, "zero": false},
          "axis": {"orient": "right", "title": "TH0", "titleAngle": 0, "titleAlign": "right", "titleBaseline": "alphabetic", "titleX": -8, "titleY": 16, "labels": false, "minExtent": 0, "maxExtent": 0, "values": [450,460,470,480,490,500,510,520,530,540,550,560,570,580,590,600,610,620], "tickSize": {"condition": {"test": "datum.value % 50 === 0", "value": -6}, "value": -3.5}}}
   }}
 ],
 "resolve": {"axis": {"x": "independent", "y": "independent"}}
},
{
 "width": 604, "height": 89.8,
 "data": {"name": "lc"},
 "layer": [
  {"mark": {"type": "line", "color": "#00ff00", "strokeWidth": 1, "clip": true},
   "encoding": {
    "x": {"field": "t", "type": "quantitative", "scale": {"domain": [-523, 419], "nice": false, "zero": false},
          "axis": {"orient": "bottom", "title": null, "labels": false, "minExtent": 0, "maxExtent": 0, "values": [-500,-400,-300,-200,-100,0,100,200,300,400], "tickSize": {"condition": {"test": "datum.value % 200 === 0", "value": -6}, "value": -3}}},
    "y": {"field": "b", "type": "quantitative", "scale": {"domain": [396, 549], "nice": false, "zero": false},
          "axis": {"orient": "left", "title": null, "format": "d", "values": [400,410,420,430,440,450,460,470,480,490,500,510,520,530,540], "labelExpr": "datum.value % 50 === 0 ? datum.label : ''", "tickSize": {"condition": {"test": "datum.value % 50 === 0", "value": -6}, "value": -3.5}, "labelPadding": 8}}
   }},
  {"mark": {"type": "line", "strokeOpacity": 0},
   "encoding": {
    "x": {"field": "t", "type": "quantitative", "scale": {"domain": [-523, 419], "nice": false, "zero": false},
          "axis": {"orient": "top", "title": null, "labels": false, "minExtent": 0, "maxExtent": 0, "values": [-500,-400,-300,-200,-100,0,100,200,300,400], "tickSize": {"condition": {"test": "datum.value % 200 === 0", "value": -6}, "value": -3}}},
    "y": {"field": "b", "type": "quantitative", "scale": {"domain": [396, 549], "nice": false, "zero": false},
          "axis": {"orient": "right", "title": "TH1", "titleAngle": 0, "titleAlign": "right", "titleBaseline": "alphabetic", "titleX": -8, "titleY": 16, "labels": false, "minExtent": 0, "maxExtent": 0, "values": [400,410,420,430,440,450,460,470,480,490,500,510,520,530,540], "tickSize": {"condition": {"test": "datum.value % 50 === 0", "value": -6}, "value": -3.5}}}
   }}
 ],
 "resolve": {"axis": {"x": "independent", "y": "independent"}}
},
{
 "width": 604, "height": 89.8,
 "data": {"name": "lc"},
 "layer": [
  {"mark": {"type": "line", "color": "#0000ff", "strokeWidth": 1, "clip": true},
   "encoding": {
    "x": {"field": "t", "type": "quantitative", "scale": {"domain": [-523, 419], "nice": false, "zero": false},
          "axis": {"orient": "bottom", "title": null, "labels": false, "minExtent": 0, "maxExtent": 0, "values": [-500,-400,-300,-200,-100,0,100,200,300,400], "tickSize": {"condition": {"test": "datum.value % 200 === 0", "value": -6}, "value": -3}}},
    "y": {"field": "c", "type": "quantitative", "scale": {"domain": [624, 796], "nice": false, "zero": false},
          "axis": {"orient": "left", "title": "Counts/sec", "titlePadding": 35, "format": "d", "values": [630,640,650,660,670,680,690,700,710,720,730,740,750,760,770,780,790], "labelExpr": "datum.value % 50 === 0 ? datum.label : ''", "tickSize": {"condition": {"test": "datum.value % 50 === 0", "value": -6}, "value": -3.5}, "labelPadding": 8}}
   }},
  {"mark": {"type": "line", "strokeOpacity": 0},
   "encoding": {
    "x": {"field": "t", "type": "quantitative", "scale": {"domain": [-523, 419], "nice": false, "zero": false},
          "axis": {"orient": "top", "title": null, "labels": false, "minExtent": 0, "maxExtent": 0, "values": [-500,-400,-300,-200,-100,0,100,200,300,400], "tickSize": {"condition": {"test": "datum.value % 200 === 0", "value": -6}, "value": -3}}},
    "y": {"field": "c", "type": "quantitative", "scale": {"domain": [624, 796], "nice": false, "zero": false},
          "axis": {"orient": "right", "title": "TH2", "titleAngle": 0, "titleAlign": "right", "titleBaseline": "alphabetic", "titleX": -8, "titleY": 16, "labels": false, "minExtent": 0, "maxExtent": 0, "values": [630,640,650,660,670,680,690,700,710,720,730,740,750,760,770,780,790], "tickSize": {"condition": {"test": "datum.value % 50 === 0", "value": -6}, "value": -3.5}}}
   }}
 ],
 "resolve": {"axis": {"x": "independent", "y": "independent"}}
},
{
 "width": 604, "height": 89.8,
 "data": {"name": "lc"},
 "layer": [
  {"mark": {"type": "line", "color": "#00ffff", "strokeWidth": 1, "clip": true},
   "encoding": {
    "x": {"field": "t", "type": "quantitative", "scale": {"domain": [-523, 419], "nice": false, "zero": false},
          "axis": {"orient": "bottom", "title": null, "labels": false, "minExtent": 0, "maxExtent": 0, "values": [-500,-400,-300,-200,-100,0,100,200,300,400], "tickSize": {"condition": {"test": "datum.value % 200 === 0", "value": -6}, "value": -3}}},
    "y": {"field": "d", "type": "quantitative", "scale": {"domain": [1233, 1489], "nice": false, "zero": false},
          "axis": {"orient": "left", "title": null, "format": "d", "values": [1240,1260,1280,1300,1320,1340,1360,1380,1400,1420,1440,1460,1480], "labelExpr": "datum.value % 100 === 0 ? datum.label : ''", "tickSize": {"condition": {"test": "datum.value % 100 === 0", "value": -6}, "value": -3.5}, "labelPadding": 8}}
   }},
  {"mark": {"type": "line", "strokeOpacity": 0},
   "encoding": {
    "x": {"field": "t", "type": "quantitative", "scale": {"domain": [-523, 419], "nice": false, "zero": false},
          "axis": {"orient": "top", "title": null, "labels": false, "minExtent": 0, "maxExtent": 0, "values": [-500,-400,-300,-200,-100,0,100,200,300,400], "tickSize": {"condition": {"test": "datum.value % 200 === 0", "value": -6}, "value": -3}}},
    "y": {"field": "d", "type": "quantitative", "scale": {"domain": [1233, 1489], "nice": false, "zero": false},
          "axis": {"orient": "right", "title": "TH3", "titleAngle": 0, "titleAlign": "right", "titleBaseline": "alphabetic", "titleX": -8, "titleY": 16, "labels": false, "minExtent": 0, "maxExtent": 0, "values": [1240,1260,1280,1300,1320,1340,1360,1380,1400,1420,1440,1460,1480], "tickSize": {"condition": {"test": "datum.value % 100 === 0", "value": -6}, "value": -3.5}}}
   }}
 ],
 "resolve": {"axis": {"x": "independent", "y": "independent"}}
},
{
 "width": 604, "height": 89.8,
 "data": {"name": "lc"},
 "layer": [
  {"mark": {"type": "line", "color": "#ff00ff", "strokeWidth": 1, "clip": true},
   "encoding": {
    "x": {"field": "t", "type": "quantitative", "scale": {"domain": [-523, 419], "nice": false, "zero": false},
          "axis": {"orient": "bottom", "title": "Time [sec] 0 = 2007/11/15 01:32:58", "titlePadding": -2, "values": [-500,-400,-300,-200,-100,0,100,200,300,400], "labelExpr": "datum.value % 200 === 0 ? datum.label : ''", "tickSize": {"condition": {"test": "datum.value % 200 === 0", "value": -6}, "value": -3}, "labelPadding": 9}},
    "y": {"field": "e", "type": "quantitative", "scale": {"domain": [2886, 3272], "nice": false, "zero": false},
          "axis": {"orient": "left", "title": null, "format": "d", "values": [2900,2920,2940,2960,2980,3000,3020,3040,3060,3080,3100,3120,3140,3160,3180,3200,3220,3240,3260], "labelExpr": "datum.value % 100 === 0 ? datum.label : ''", "tickSize": {"condition": {"test": "datum.value % 100 === 0", "value": -6}, "value": -3.5}, "labelPadding": 8}}
   }},
  {"mark": {"type": "line", "strokeOpacity": 0},
   "encoding": {
    "x": {"field": "t", "type": "quantitative", "scale": {"domain": [-523, 419], "nice": false, "zero": false},
          "axis": {"orient": "top", "title": null, "labels": false, "minExtent": 0, "maxExtent": 0, "values": [-500,-400,-300,-200,-100,0,100,200,300,400], "tickSize": {"condition": {"test": "datum.value % 200 === 0", "value": -6}, "value": -3}}},
    "y": {"field": "e", "type": "quantitative", "scale": {"domain": [2886, 3272], "nice": false, "zero": false},
          "axis": {"orient": "right", "title": "TH0123", "titleAngle": 0, "titleAlign": "right", "titleBaseline": "alphabetic", "titleX": -3, "titleY": 16, "labels": false, "minExtent": 0, "maxExtent": 0, "values": [2900,2920,2940,2960,2980,3000,3020,3040,3060,3080,3100,3120,3140,3160,3180,3200,3220,3240,3260], "tickSize": {"condition": {"test": "datum.value % 100 === 0", "value": -6}, "value": -3.5}}}
   }}
 ],
 "resolve": {"axis": {"x": "independent", "y": "independent"}}
}
]
}
